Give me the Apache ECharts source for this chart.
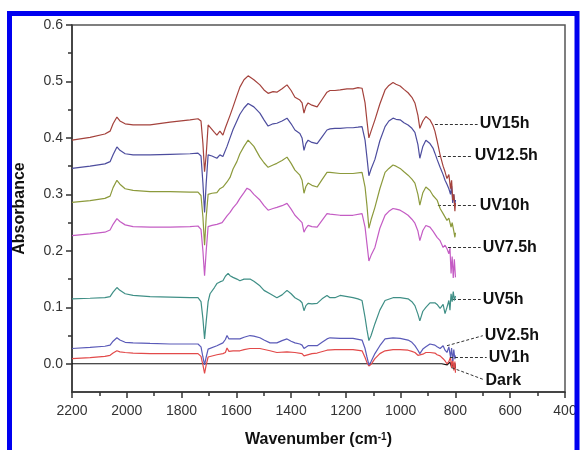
<!DOCTYPE html>
<html>
<head>
<meta charset="utf-8">
<script src="https://cdn.jsdelivr.net/npm/echarts@6/dist/echarts.min.js"></script>
<style>html,body{margin:0;padding:0;background:#fff;}#chart{width:580px;height:450px;}</style>
</head>
<body>
<div id="chart"></div>
<script>
// ---- data (wavenumber cm-1, absorbance) ----
const seriesNames = ['Dark', 'UV1h', 'UV2.5h', 'UV5h', 'UV7.5h', 'UV10h', 'UV12.5h', 'UV15h'];

const dark = [[2200,0],[1800,0],[1400,0],[1000,0],[850,0],[830,-0.002],[820,0.003],[814,-0.006],[810,0.002],[806,-0.009],[802,0.001],[800,-0.008]];

const uv1h = [[2200,0.009],[2134,0.011],[2080,0.013],[2061,0.015],[2050,0.019],[2036,0.023],[2025,0.021],[2006,0.020],[1977,0.019],[1915,0.018],[1842,0.018],[1769,0.018],[1740,0.018],[1729,0.013],[1722,-0.002],[1716,-0.017],[1710,-0.002],[1703,0.012],[1696,0.014],[1671,0.016],[1649,0.018],[1640,0.020],[1634,0.028],[1627,0.022],[1612,0.023],[1587,0.023],[1572,0.025],[1550,0.027],[1514,0.027],[1477,0.023],[1452,0.020],[1415,0.021],[1386,0.020],[1360,0.018],[1353,0.014],[1346,0.016],[1324,0.018],[1305,0.019],[1269,0.024],[1240,0.025],[1196,0.025],[1174,0.025],[1141,0.023],[1130,0.011],[1123,0.002],[1116,-0.004],[1108,-0.001],[1094,0.009],[1076,0.018],[1057,0.023],[1028,0.025],[1002,0.025],[973,0.024],[959,0.022],[948,0.020],[937,0.015],[930,0.012],[919,0.017],[908,0.020],[893,0.020],[875,0.019],[867,0.016],[856,0.014],[845,0.009],[838,0.005],[831,0.000],[824,0.004],[818,0.012],[814,-0.008],[810,0.010],[806,-0.012],[802,0.004],[800,-0.016]];

const uv2_5h = [[2200,0.027],[2134,0.029],[2080,0.031],[2061,0.033],[2050,0.040],[2036,0.046],[2025,0.042],[2006,0.038],[1977,0.037],[1915,0.036],[1842,0.035],[1769,0.035],[1740,0.035],[1729,0.030],[1722,0.012],[1716,-0.002],[1710,0.012],[1703,0.026],[1696,0.028],[1671,0.032],[1649,0.037],[1640,0.043],[1634,0.050],[1627,0.044],[1612,0.044],[1587,0.044],[1572,0.047],[1550,0.050],[1536,0.049],[1514,0.046],[1499,0.042],[1477,0.037],[1452,0.037],[1433,0.041],[1415,0.044],[1400,0.040],[1386,0.037],[1368,0.035],[1360,0.033],[1353,0.027],[1346,0.030],[1338,0.032],[1305,0.032],[1287,0.038],[1269,0.044],[1258,0.046],[1221,0.045],[1174,0.045],[1141,0.042],[1130,0.027],[1123,0.012],[1116,-0.002],[1108,0.004],[1094,0.018],[1076,0.032],[1057,0.044],[1028,0.046],[1002,0.045],[973,0.042],[959,0.038],[948,0.032],[937,0.024],[930,0.018],[919,0.026],[908,0.030],[893,0.035],[875,0.033],[867,0.030],[856,0.027],[845,0.032],[838,0.024],[831,0.020],[824,0.030],[818,0.012],[814,0.028],[810,0.005],[806,0.025],[802,0.008],[800,0.015]];

const uv5h = [[2200,0.115],[2134,0.116],[2080,0.117],[2061,0.119],[2050,0.127],[2036,0.135],[2025,0.130],[2006,0.124],[1977,0.121],[1915,0.119],[1842,0.118],[1769,0.117],[1740,0.117],[1729,0.110],[1722,0.080],[1716,0.044],[1710,0.075],[1703,0.110],[1696,0.124],[1680,0.135],[1671,0.142],[1660,0.145],[1649,0.147],[1640,0.155],[1630,0.160],[1623,0.156],[1612,0.153],[1598,0.150],[1587,0.147],[1572,0.150],[1550,0.150],[1536,0.146],[1514,0.138],[1499,0.130],[1477,0.124],[1452,0.117],[1433,0.122],[1415,0.130],[1400,0.124],[1386,0.117],[1368,0.112],[1360,0.108],[1353,0.094],[1346,0.103],[1338,0.107],[1324,0.106],[1305,0.107],[1287,0.115],[1269,0.121],[1258,0.117],[1240,0.117],[1221,0.121],[1174,0.117],[1156,0.115],[1141,0.112],[1130,0.082],[1123,0.060],[1116,0.041],[1108,0.050],[1094,0.071],[1076,0.095],[1057,0.112],[1028,0.117],[1002,0.117],[973,0.115],[959,0.110],[948,0.103],[937,0.088],[930,0.076],[919,0.093],[908,0.100],[893,0.108],[875,0.108],[867,0.105],[856,0.098],[845,0.105],[838,0.089],[831,0.100],[824,0.112],[820,0.095],[816,0.124],[812,0.110],[808,0.128],[804,0.112],[800,0.120]];

const uv7_5h = [[2200,0.227],[2134,0.230],[2080,0.233],[2061,0.237],[2050,0.247],[2036,0.257],[2025,0.252],[2006,0.246],[1977,0.243],[1915,0.242],[1842,0.242],[1769,0.243],[1740,0.244],[1729,0.238],[1722,0.200],[1716,0.156],[1710,0.200],[1703,0.243],[1689,0.245],[1671,0.247],[1652,0.250],[1634,0.262],[1623,0.268],[1612,0.276],[1598,0.284],[1587,0.293],[1572,0.303],[1561,0.311],[1550,0.308],[1536,0.300],[1514,0.290],[1499,0.280],[1484,0.272],[1466,0.275],[1452,0.277],[1433,0.280],[1415,0.284],[1400,0.274],[1386,0.263],[1368,0.254],[1360,0.250],[1353,0.233],[1346,0.240],[1338,0.245],[1324,0.243],[1305,0.242],[1287,0.254],[1269,0.266],[1258,0.265],[1221,0.263],[1174,0.263],[1141,0.266],[1130,0.242],[1123,0.212],[1116,0.182],[1108,0.192],[1094,0.206],[1076,0.240],[1057,0.263],[1043,0.270],[1028,0.275],[1017,0.274],[1002,0.272],[988,0.268],[973,0.263],[959,0.256],[948,0.249],[937,0.235],[930,0.218],[919,0.236],[908,0.245],[893,0.242],[882,0.235],[867,0.224],[856,0.218],[845,0.206],[838,0.210],[831,0.204],[824,0.195],[820,0.205],[816,0.160],[812,0.190],[808,0.152],[804,0.185],[800,0.153]];

const uv10h = [[2200,0.286],[2134,0.289],[2080,0.293],[2061,0.297],[2050,0.312],[2036,0.325],[2025,0.318],[2006,0.310],[1977,0.307],[1915,0.305],[1842,0.305],[1769,0.304],[1740,0.304],[1729,0.298],[1722,0.260],[1716,0.210],[1710,0.260],[1703,0.300],[1689,0.302],[1671,0.303],[1660,0.310],[1649,0.313],[1634,0.322],[1623,0.330],[1612,0.345],[1598,0.358],[1587,0.372],[1572,0.385],[1557,0.396],[1550,0.394],[1536,0.385],[1514,0.366],[1499,0.356],[1484,0.348],[1466,0.352],[1452,0.355],[1433,0.360],[1415,0.366],[1400,0.355],[1386,0.343],[1368,0.334],[1360,0.325],[1353,0.302],[1346,0.314],[1338,0.320],[1324,0.316],[1305,0.313],[1287,0.326],[1269,0.339],[1258,0.339],[1221,0.337],[1196,0.337],[1174,0.337],[1141,0.339],[1130,0.313],[1123,0.280],[1116,0.240],[1108,0.255],[1094,0.277],[1076,0.310],[1057,0.339],[1043,0.346],[1028,0.352],[1017,0.350],[1002,0.346],[988,0.340],[973,0.334],[959,0.327],[948,0.320],[937,0.300],[930,0.281],[919,0.303],[908,0.313],[893,0.307],[882,0.298],[867,0.290],[856,0.275],[845,0.266],[831,0.254],[824,0.258],[816,0.242],[812,0.250],[806,0.235],[802,0.224],[800,0.232]];

const uv12_5h = [[2200,0.346],[2134,0.350],[2080,0.354],[2061,0.358],[2050,0.370],[2036,0.384],[2025,0.378],[2006,0.372],[1977,0.370],[1915,0.370],[1842,0.371],[1769,0.372],[1740,0.373],[1729,0.368],[1722,0.320],[1716,0.268],[1710,0.320],[1703,0.370],[1689,0.368],[1671,0.364],[1660,0.370],[1649,0.367],[1634,0.385],[1623,0.400],[1612,0.415],[1598,0.430],[1587,0.442],[1572,0.453],[1557,0.461],[1550,0.459],[1536,0.455],[1514,0.444],[1499,0.432],[1484,0.421],[1466,0.425],[1452,0.426],[1433,0.430],[1415,0.435],[1400,0.425],[1386,0.414],[1368,0.408],[1360,0.400],[1353,0.378],[1346,0.390],[1338,0.396],[1324,0.392],[1305,0.390],[1287,0.402],[1269,0.414],[1258,0.416],[1240,0.417],[1221,0.417],[1196,0.418],[1174,0.418],[1156,0.419],[1141,0.420],[1130,0.396],[1123,0.365],[1116,0.333],[1108,0.345],[1094,0.362],[1076,0.395],[1057,0.420],[1043,0.430],[1028,0.435],[1017,0.433],[1002,0.432],[988,0.427],[973,0.423],[959,0.417],[948,0.410],[937,0.388],[930,0.364],[919,0.385],[908,0.396],[893,0.390],[882,0.382],[875,0.373],[867,0.362],[856,0.348],[845,0.335],[838,0.325],[831,0.318],[824,0.310],[818,0.300],[814,0.315],[810,0.285],[806,0.300],[802,0.282],[800,0.290]];

const uv15h = [[2200,0.396],[2134,0.401],[2080,0.407],[2061,0.412],[2050,0.425],[2036,0.437],[2025,0.430],[2006,0.425],[1977,0.423],[1915,0.423],[1842,0.428],[1769,0.432],[1740,0.434],[1729,0.430],[1722,0.390],[1716,0.340],[1710,0.370],[1703,0.423],[1696,0.420],[1680,0.410],[1671,0.405],[1660,0.412],[1649,0.405],[1640,0.418],[1634,0.415],[1623,0.440],[1612,0.455],[1598,0.475],[1587,0.490],[1572,0.503],[1557,0.510],[1550,0.508],[1536,0.503],[1514,0.494],[1499,0.485],[1484,0.479],[1466,0.482],[1452,0.481],[1433,0.487],[1415,0.494],[1400,0.484],[1386,0.472],[1368,0.467],[1360,0.462],[1353,0.444],[1346,0.456],[1338,0.462],[1324,0.458],[1305,0.455],[1287,0.468],[1269,0.481],[1258,0.484],[1240,0.484],[1221,0.485],[1196,0.487],[1174,0.487],[1156,0.489],[1141,0.488],[1130,0.462],[1123,0.430],[1116,0.400],[1108,0.412],[1094,0.432],[1076,0.460],[1057,0.485],[1043,0.493],[1028,0.498],[1017,0.495],[1002,0.492],[988,0.486],[973,0.480],[959,0.472],[948,0.462],[937,0.440],[930,0.417],[919,0.430],[908,0.438],[893,0.432],[882,0.422],[875,0.412],[867,0.395],[856,0.370],[845,0.350],[838,0.340],[831,0.328],[824,0.335],[818,0.310],[814,0.325],[810,0.290],[806,0.300],[802,0.270],[800,0.285]];

const seriesData = [dark, uv1h, uv2_5h, uv5h, uv7_5h, uv10h, uv12_5h, uv15h];

// tick labels
const xTicks = [2200, 2000, 1800, 1600, 1400, 1200, 1000, 800, 600, 400];
const yTicks = [0, 0.1, 0.2, 0.3, 0.4, 0.5, 0.6];
const yMinorTicks = [0.05, 0.15, 0.25, 0.35, 0.45, 0.55];

// annotation leader lines: [start wavenumber, start absorbance, end wavenumber, end absorbance]
const leaders = [
  [813, -0.007, 697, -0.028],
  [820, 0.0107, 686, 0.0107],
  [831, 0.032, 700, 0.0497],
  [809, 0.114, 708, 0.114],
  [827, 0.206, 708, 0.206],
  [864, 0.281, 719, 0.281],
  [864, 0.368, 737, 0.368],
  [875, 0.4245, 719, 0.4245]
];

const colors = ['#111111', '#e24a4a', '#5a5ab8', '#3f8f86', '#c45cc4', '#8c9a3c', '#4d4d9e', '#a4423c'];

const chart = echarts.init(document.getElementById('chart'), null, {renderer: 'canvas'});
const FONT = 'Liberation Sans, Arial, sans-serif';

const series = seriesNames.map((name, i) => ({
  name: name,
  type: 'line',
  data: seriesData[i],
  showSymbol: false,
  symbol: 'none',
  xAxisIndex: 0,
  yAxisIndex: 0,
  lineStyle: {color: colors[i], width: 1.2},
  z: 2 + i,
  markLine: {
    silent: true,
    symbol: ['none', 'none'],
    animation: false,
    lineStyle: {color: '#333', width: 1, type: [3, 2]},
    label: {
      show: true, position: 'end', distance: 2, formatter: name,
      fontFamily: FONT, fontSize: 16, fontWeight: 'bold', color: '#111'
    },
    data: [[
      {coord: [leaders[i][0], leaders[i][1]]},
      {coord: [leaders[i][2], leaders[i][3]]}
    ]]
  }
}));

const option = {
  animation: false,
  backgroundColor: '#fff',
  grid: {left: 72, top: 25, right: 15, bottom: 58, containLabel: false, outerBoundsMode: 'none',
    show: true, borderColor: '#555', borderWidth: 1.5, backgroundColor: 'transparent'},
  xAxis: [{
    type: 'value', min: 400, max: 2200, interval: 200, inverse: true,
    name: 'Wavenumber (cm{sup|-1})', nameLocation: 'middle', nameGap: 40,
    nameTextStyle: {fontFamily: FONT, fontSize: 16, fontWeight: 'bold', color: '#111',
      rich: {sup: {fontFamily: FONT, fontSize: 10, fontWeight: 'bold', color: '#111', verticalAlign: 'top'}}},
    axisLine: {show: true, onZero: false, lineStyle: {color: '#333', width: 1.5}},
    axisTick: {show: true, length: 6, lineStyle: {color: '#333', width: 1.5}},
    minorTick: {show: true, splitNumber: 2, length: 4, lineStyle: {color: '#333', width: 1.5}},
    axisLabel: {fontFamily: FONT, fontSize: 14, color: '#333', margin: 12,
      formatter: v => (xTicks.indexOf(v) >= 0 ? String(v) : '')},
    splitLine: {show: false}
  }],
  yAxis: [{
    type: 'value', min: -0.05, max: 0.6, interval: 0.05,
    name: 'Absorbance', nameLocation: 'middle', nameGap: 44, nameRotate: 90,
    nameTextStyle: {fontFamily: FONT, fontSize: 16, fontWeight: 'bold', color: '#111'},
    axisLine: {show: true, onZero: false, lineStyle: {color: '#333', width: 1.5}},
    axisTick: {show: true, length: 6, customValues: yTicks, lineStyle: {color: '#333', width: 1.5}},
    axisLabel: {fontFamily: FONT, fontSize: 14, color: '#333', margin: 9, customValues: yTicks,
      formatter: v => v.toFixed(1)},
    splitLine: {show: false}
  }, {
    type: 'value', min: -0.05, max: 0.6, interval: 0.05, position: 'left',
    axisLine: {show: false},
    axisTick: {show: true, length: 4, customValues: yMinorTicks, lineStyle: {color: '#333', width: 1.5}},
    axisLabel: {show: false},
    splitLine: {show: false}
  }],
  graphic: [{
    type: 'rect', silent: true, z: 100,
    shape: {x: 9.5, y: 13.5, width: 567.5, height: 500},
    style: {fill: 'none', stroke: '#0000f0', lineWidth: 5}
  }],
  series: series
};
chart.setOption(option);
</script>
</body>
</html>
